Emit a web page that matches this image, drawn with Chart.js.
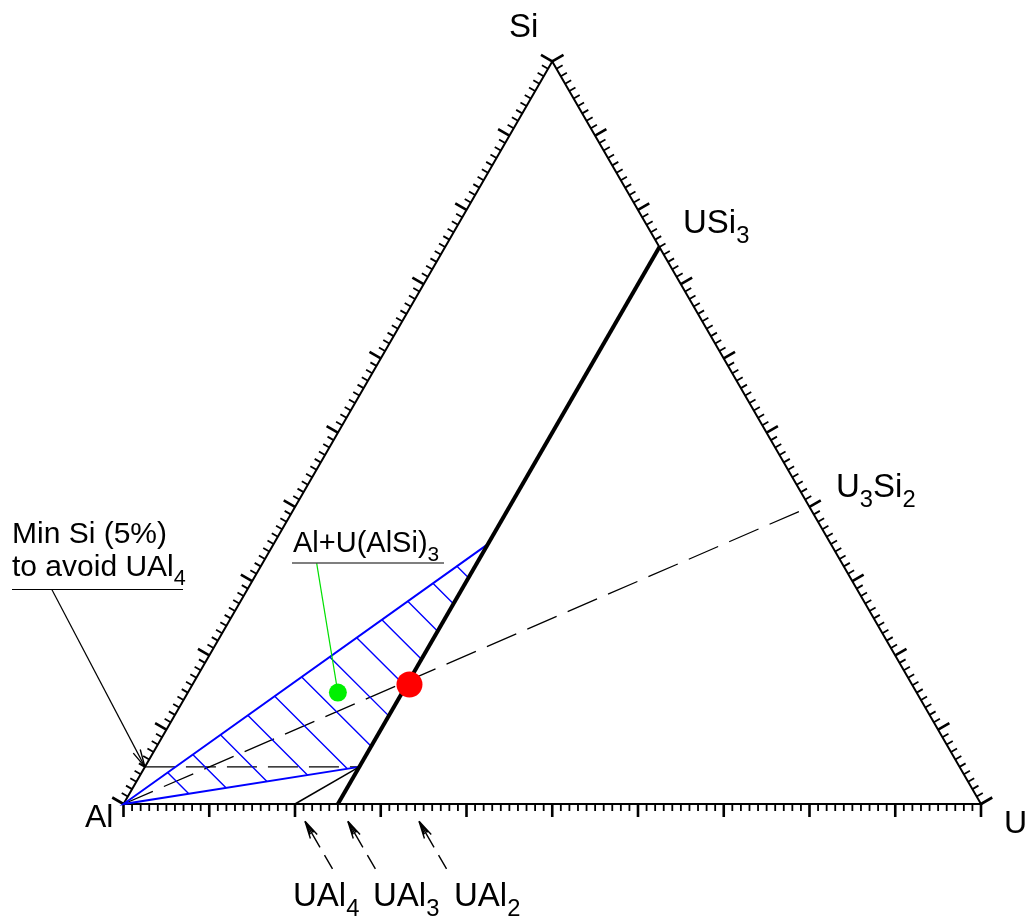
<!DOCTYPE html>
<html lang="en">
<head>
<meta charset="UTF-8">
<title>Al-Si-U ternary</title>
<script src="https://cdn.jsdelivr.net/npm/chart.js"></script>
<style>
  html, body { margin: 0; padding: 0; background: #fff; }
  canvas { display: block; }
</style>
</head>
<body>
<canvas id="ternary" width="1029" height="921"></canvas>
<script>
// compositions are atomic fractions of U and Si, Al is the remainder
const tickPercents = [];
for (let p = 0; p <= 100; p++) tickPercents.push(p);
const majorTickEvery = 10;

const boundaryU = [0.25, 0.25];          // UAl3 -> USi3
const boundarySi = [0, 0.75];
const tieU = [0.2, 0.25];                // UAl4 -> U(AlSi)3 at 5% Si
const tieSi = [0, 0.05];
const regionU = [0.25, 0, 0.25];         // Al + U(AlSi)3 field: top, Al, bottom
const regionSi = [0.35, 0, 0.05];
const hatchStarts = [0.121, 0.19, 0.266, 0.341, 0.415, 0.489, 0.566, 0.64, 0.709, 0.78, 0.849, 0.915];
const u3si2LineU = [0, 0.6];             // Al -> U3Si2
const u3si2LineSi = [0, 0.4];
const minSiLineU = [0, 0.25];            // 5% Si line
const minSiLineSi = [0.05, 0.05];
const alloyU = [0.253], alloySi = [0.161];   // red dot
const sampleU = [0.175], sampleSi = [0.15];  // green dot
const markerNames = ['UAl4', 'UAl3', 'UAl2'];
const markerU = [0.2, 0.25, 0.333];

const SQ = Math.sqrt(3) / 2;
const PX = 857.5;            // pixels per unit side
const OX = 123.5, OY = 804;  // Al corner on the canvas

function pt(u, si) { return { x: u + si / 2, y: si * SQ }; }
function fromPx(px, py) { return { x: (px - OX) / PX, y: (OY - py) / PX }; }
const GAP = { x: null, y: null };

// ticks on the three edges, pointing outwards
const AL = pt(0, 0), U = pt(1, 0), SI = pt(0, 1);
const edges = [
  { a: AL, b: U, n: { x: 0, y: -1 } },
  { a: U, b: SI, n: { x: SQ, y: 0.5 } },
  { a: SI, b: AL, n: { x: -SQ, y: 0.5 } }
];
const minorTicks = [], majorTicks = [];
edges.forEach(e => {
  tickPercents.forEach(p => {
    const f = p / 100;
    const s = { x: e.a.x + (e.b.x - e.a.x) * f, y: e.a.y + (e.b.y - e.a.y) * f };
    const major = p % majorTickEvery === 0;
    const len = (major ? 13 : 7) / PX;
    const list = major ? majorTicks : minorTicks;
    list.push(s, { x: s.x + e.n.x * len, y: s.y + e.n.y * len }, GAP);
  });
});

// hatch lines at 45 degrees inside the Al + U(AlSi)3 field
const regionTop = pt(regionU[0], regionSi[0]), regionLow = pt(regionU[2], regionSi[2]);
const hatch = [];
hatchStarts.forEach(t => {
  const s = { x: regionTop.x * t, y: regionTop.y * t };
  const c = s.x + s.y;
  const cl = regionLow.x + regionLow.y, ct = regionTop.x + regionTop.y;
  let e;
  if (c <= cl) {
    const k = c / cl;
    e = { x: regionLow.x * k, y: regionLow.y * k };
  } else {
    const k = (c - cl) / (ct - cl);
    e = { x: regionLow.x + (regionTop.x - regionLow.x) * k, y: regionLow.y + (regionTop.y - regionLow.y) * k };
  }
  hatch.push(s, e, GAP);
});

// arrow helpers
function rot(v, a) {
  return { x: v.x * Math.cos(a) - v.y * Math.sin(a), y: v.x * Math.sin(a) + v.y * Math.cos(a) };
}
function head(tip, back, lenPx, ang) {
  const out = [];
  [-ang, ang].forEach(a => {
    const r = rot(back, a);
    out.push(tip, { x: tip.x + r.x * lenPx / PX, y: tip.y + r.y * lenPx / PX }, GAP);
  });
  return out;
}
const arrowDir = { x: Math.cos(Math.PI / 3), y: -Math.sin(Math.PI / 3) };
const arrowShafts = [];
let arrowHeads = [];
markerU.forEach(u => {
  const t = pt(u, 0);
  const tip = { x: t.x + arrowDir.x * 20 / PX, y: t.y + arrowDir.y * 20 / PX };
  const tail = { x: t.x + arrowDir.x * 75 / PX, y: t.y + arrowDir.y * 75 / PX };
  arrowShafts.push([tip, tail]);
  arrowHeads = arrowHeads.concat(head(tip, arrowDir, 18, 0.22), head(tip, arrowDir, 14, 0.12));
});
// leader from "Min Si" note to the 5% Si point on the Al-Si edge
const minSiTip = pt(0, minSiLineSi[0]);
const minSiTail = fromPx(51.7, 589.3);
const dl = Math.hypot(minSiTail.x - minSiTip.x, minSiTail.y - minSiTip.y);
const minSiBack = { x: (minSiTail.x - minSiTip.x) / dl, y: (minSiTail.y - minSiTip.y) / dl };
arrowHeads = arrowHeads.concat(head(minSiTip, minSiBack, 18, 0.22));

function line(data, color, width, dash) {
  return {
    data, showLine: true, borderColor: color, borderWidth: width,
    borderDash: dash || [], pointRadius: 0, fill: false, tension: 0,
    borderCapStyle: 'butt'
  };
}
const pair = (us, sis) => us.map((u, i) => pt(u, sis[i]));

const datasets = [
  { data: pair(alloyU, alloySi), pointRadius: 13, backgroundColor: '#ff0000', borderWidth: 0, showLine: false },
  { data: pair(sampleU, sampleSi), pointRadius: 9, backgroundColor: '#00f000', borderWidth: 0, showLine: false },
  line([pt(sampleU[0], sampleSi[0]), fromPx(316.7, 563.3)], '#00e000', 1.2),
  line(pair(boundaryU, boundarySi), '#000', 4),
  line(pair(tieU, tieSi), '#000', 1.5),
  line(pair(regionU, regionSi), '#0000ff', 2),
  line(hatch, '#0000ff', 1.4),
  line(pair(u3si2LineU, u3si2LineSi), '#000', 1.3, [32, 12]),
  line(pair(minSiLineU, minSiLineSi), '#000', 1.3, [30, 11]),
  line([minSiTip, minSiTail], '#000', 1.2),
  ...arrowShafts.map(s => line(s, '#000', 1.4, [30, 9])),
  line(arrowHeads, '#000', 1.4),
  line(minorTicks, '#000', 1.8),
  line(majorTicks, '#000', 2.6),
  line([AL, U, SI, AL], '#000', 2)
];

function drawRich(ctx, parts, x, y, size) {
  let cx = x;
  parts.forEach(([txt, sub]) => {
    const s = sub ? size * 0.72 : size;
    ctx.font = s + 'px "Liberation Sans", Arial, sans-serif';
    ctx.fillText(txt, cx, sub ? y + size * 0.3 : y);
    cx += ctx.measureText(txt).width;
  });
  return cx;
}

const labelPlugin = {
  id: 'labels',
  afterDatasetsDraw(chart) {
    const ctx = chart.ctx;
    ctx.save();
    ctx.fillStyle = '#000';
    ctx.textBaseline = 'alphabetic';
    drawRich(ctx, [['Si']], 509, 37, 33);
    drawRich(ctx, [['Al']], 85, 827, 32);
    drawRich(ctx, [['U']], 1004, 833, 32);
    drawRich(ctx, [['USi'], ['3', 1]], 683, 233, 33);
    drawRich(ctx, [['U'], ['3', 1], ['Si'], ['2', 1]], 836, 497, 33);
    const mx = [293, 373, 454];
    markerNames.forEach((n, i) => drawRich(ctx, [[n.slice(0, 3)], [n.slice(3), 1]], mx[i], 906, 33));
    drawRich(ctx, [['Min Si (5%)']], 12, 543, 30);
    drawRich(ctx, [['to avoid UAl'], ['4', 1]], 12, 576, 30);
    drawRich(ctx, [['Al+U(AlSi)'], ['3', 1]], 293, 552, 29);
    ctx.strokeStyle = '#000';
    ctx.lineWidth = 1.2;
    ctx.beginPath();
    ctx.moveTo(12, 589.5); ctx.lineTo(183, 589.5);
    ctx.moveTo(292, 563); ctx.lineTo(444, 563);
    ctx.stroke();
    ctx.restore();
  }
};

new Chart(document.getElementById('ternary'), {
  type: 'scatter',
  data: { datasets },
  options: {
    responsive: false,
    animation: false,
    events: [],
    layout: { padding: 0, autoPadding: false },
    plugins: { legend: { display: false }, tooltip: { enabled: false } },
    scales: {
      x: { type: 'linear', display: false, min: -OX / PX, max: (1029 - OX) / PX },
      y: { type: 'linear', display: false, min: -(921 - OY) / PX, max: OY / PX }
    }
  },
  plugins: [labelPlugin]
});
</script>
</body>
</html>
